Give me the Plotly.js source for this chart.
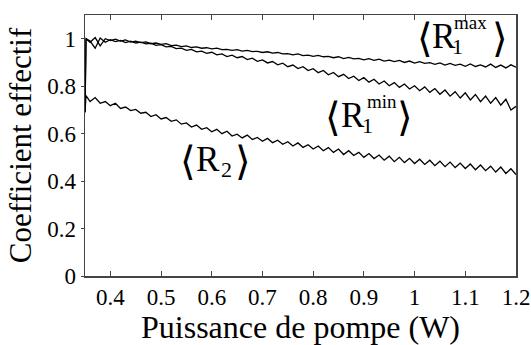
<!DOCTYPE html>
<html>
<head>
<meta charset="utf-8">
<script src="https://cdn.plot.ly/plotly-3.0.1.min.js"></script>
<style>html,body{margin:0;padding:0;background:#fff;}#chart{width:531px;height:345px;}</style>
</head>
<body>
<div id="chart"></div>
<script>
// Pump power (W)
const power = [0.350,0.352,0.36,0.37,0.38,0.39,0.40,0.41,0.42,0.43,0.44,0.45,0.46,0.47,0.48,0.49,
0.50,0.51,0.52,0.53,0.54,0.55,0.56,0.57,0.58,0.59,0.60,0.61,0.62,0.63,0.64,0.65,0.66,0.67,0.68,0.69,
0.70,0.71,0.72,0.73,0.74,0.75,0.76,0.77,0.78,0.79,0.80,0.81,0.82,0.83,0.84,0.85,0.86,0.87,0.88,0.89,
0.90,0.91,0.92,0.93,0.94,0.95,0.96,0.97,0.98,0.99,1.00,1.01,1.02,1.03,1.04,1.05,1.06,1.07,1.08,1.09,
1.10,1.11,1.12,1.13,1.14,1.15,1.16,1.17,1.18,1.19,1.20];

// <R1 max>
const r1max = [0.69,1.00,0.985,1.005,0.970,1.000,0.992,0.998,0.990,0.995,0.986,0.990,0.984,0.987,0.979,0.982,
0.976,0.979,0.971,0.973,0.967,0.970,0.963,0.966,0.960,0.962,0.957,0.960,0.954,0.955,0.951,0.954,0.948,0.951,0.946,0.947,
0.942,0.945,0.939,0.942,0.936,0.937,0.932,0.936,0.929,0.931,0.926,0.930,0.924,0.926,0.920,0.924,0.916,0.921,0.915,0.917,
0.911,0.916,0.909,0.914,0.906,0.910,0.904,0.909,0.900,0.906,0.897,0.903,0.896,0.899,0.892,0.898,0.889,0.896,0.888,0.893,
0.884,0.894,0.883,0.890,0.881,0.893,0.879,0.889,0.877,0.890,0.880];

// <R1 min>
const r1min = [0.69,1.00,0.990,0.960,1.003,0.985,0.996,0.988,0.993,0.984,0.990,0.982,0.986,0.978,0.981,0.972,
0.975,0.966,0.968,0.958,0.960,0.951,0.955,0.945,0.948,0.938,0.943,0.932,0.936,0.925,0.931,0.920,0.925,0.912,0.918,0.905,
0.911,0.898,0.904,0.890,0.897,0.882,0.889,0.874,0.882,0.866,0.874,0.857,0.866,0.848,0.858,0.840,0.850,0.832,0.842,0.824,
0.836,0.817,0.829,0.809,0.822,0.802,0.815,0.795,0.809,0.788,0.802,0.781,0.797,0.774,0.790,0.766,0.784,0.758,0.777,0.750,
0.772,0.742,0.765,0.735,0.758,0.728,0.752,0.720,0.745,0.700,0.715];

// <R2>
const r2 = [0.69,0.760,0.735,0.752,0.728,0.735,0.718,0.728,0.706,0.712,0.697,0.702,0.686,0.690,0.672,0.680,
0.662,0.668,0.652,0.658,0.640,0.645,0.628,0.636,0.618,0.625,0.608,0.618,0.600,0.610,0.590,0.598,0.582,0.594,0.575,0.584,
0.568,0.580,0.562,0.572,0.555,0.566,0.548,0.561,0.542,0.553,0.535,0.548,0.528,0.541,0.521,0.535,0.512,0.528,0.508,0.521,
0.500,0.516,0.495,0.510,0.488,0.505,0.482,0.500,0.478,0.496,0.474,0.492,0.470,0.488,0.465,0.484,0.461,0.480,0.457,0.476,
0.453,0.472,0.448,0.468,0.444,0.463,0.438,0.459,0.432,0.452,0.428];

const xTicks = [0.4,0.5,0.6,0.7,0.8,0.9,1.0,1.1,1.2];
const xTickText = ['0.4','0.5','0.6','0.7','0.8','0.9','1','1.1','1.2'];
const yTicks = [0,0.2,0.4,0.6,0.8,1.0];
const yTickText = ['0','0.2','0.4','0.6','0.8','1'];

const SERIF = 'Liberation Serif, Times New Roman, serif';
const lineStyle = {color:'#000', width:1.3};

const traces = [
  {x:power, y:r1max, mode:'lines', line:lineStyle, name:'R1max'},
  {x:power, y:r1min, mode:'lines', line:lineStyle, name:'R1min'},
  {x:power, y:r2, mode:'lines', line:lineStyle, name:'R2'}
];

// plot-area pixel box used to place the labels
const L=85, R=516, T=15, B=276;
const px = v => (v-L)/(R-L);
const py = v => (B-v)/(B-T);
function ann(text, x, y, size, fam){
  return {text:text, xref:'paper', yref:'paper', x:px(x), y:py(y), xanchor:'center', yanchor:'middle',
          showarrow:false, font:{family:fam||SERIF, size:size, color:'#000'}};
}
const CH = 'DejaVu Sans';
const annotations = [
  // <R1 max>
  ann('⟨', 425, 38, 40, CH), ann('R', 444, 36, 35), ann('1', 457, 46, 22), ann('max', 470, 22, 19), ann('⟩', 500, 38, 40, CH),
  // <R1 min>
  ann('⟨', 333, 117, 40, CH), ann('R', 353, 115, 35), ann('1', 367, 125, 22), ann('min', 382, 101, 19), ann('⟩', 405, 117, 40, CH),
  // <R2>
  ann('⟨', 188, 161, 40, CH), ann('R', 208, 159, 35), ann('2', 226, 169, 22), ann('⟩', 243, 161, 40, CH)
];

const layout = {
  width:531, height:345,
  margin:{l:85, r:15, t:15, b:69},
  paper_bgcolor:'#fff', plot_bgcolor:'#fff',
  showlegend:false,
  font:{family:SERIF, color:'#000'},
  xaxis:{range:[0.35,1.2], tickvals:xTicks, ticktext:xTickText, ticks:'inside', ticklen:5, tickcolor:'#444',
         mirror:'ticks', showline:true, linecolor:'#444', linewidth:1.5, showgrid:false, zeroline:false,
         tickfont:{family:SERIF, size:23, color:'#000'},
         title:{text:'Puissance de pompe (W)', font:{family:SERIF, size:32, color:'#000'}, standoff:6}},
  yaxis:{range:[0,1.1], tickvals:yTicks, ticktext:yTickText, ticks:'outside', ticklen:3, tickcolor:'#444',
         mirror:true, showline:true, linecolor:'#444', linewidth:1.5, showgrid:false, zeroline:false,
         tickfont:{family:SERIF, size:23, color:'#000'},
         title:{text:'Coefficient effectif', font:{family:SERIF, size:31, color:'#000'}, standoff:6}},
  yaxis2:{overlaying:'y', side:'right', range:[0,1.1], tickvals:yTicks, ticks:'inside', ticklen:5, tickcolor:'#444',
          showticklabels:false, showline:false, showgrid:false, zeroline:false},
  annotations:annotations
};

Plotly.newPlot('chart', traces, layout, {displayModeBar:false, staticPlot:true});
</script>
</body>
</html>
